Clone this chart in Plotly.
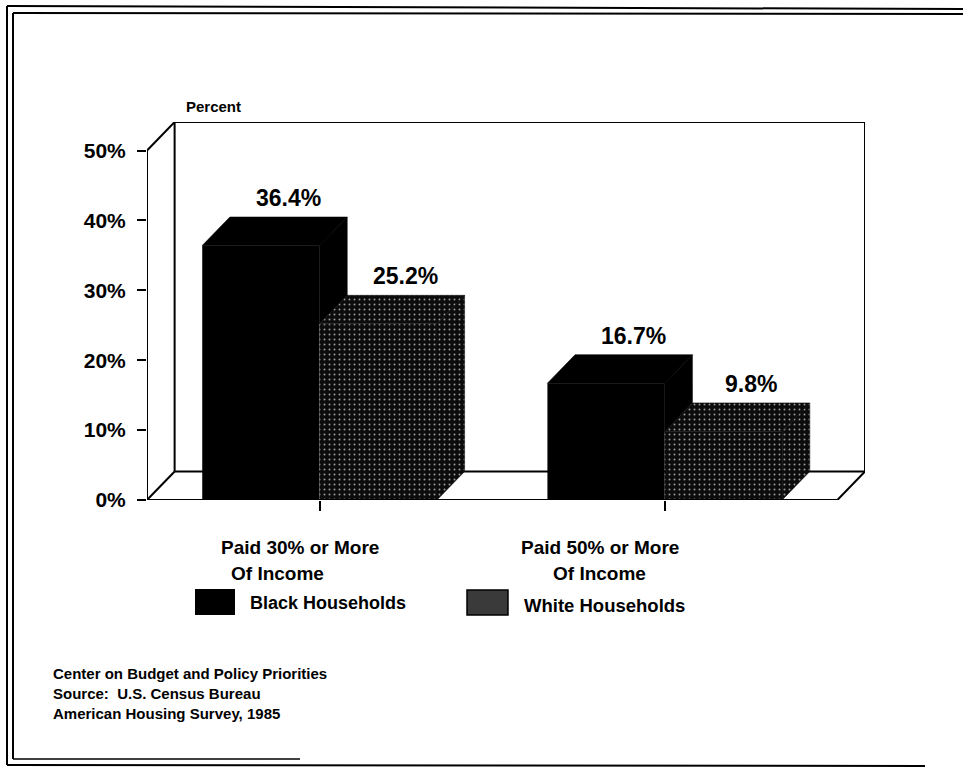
import plotly.graph_objects as go

# ---------------- data ----------------
category_line1 = ["Paid 30% or More", "Paid 50% or More"]
category_line2 = ["Of Income", "Of Income"]
series_names = ["Black Households", "White Households"]
black_values = [36.4, 16.7]
white_values = [25.2, 9.8]
y_ticks = [0, 10, 20, 30, 40, 50]
footer_lines = ["Center on Budget and Policy Priorities",
                "Source:  U.S. Census Bureau",
                "American Housing Survey, 1985"]

# ---------------- geometry / style ----------------
FONT = "Liberation Sans, Arial, Helvetica, sans-serif"
W, H = 963, 769
L, R, T, B = 147, 865, 122, 500          # plot area in pixels
YMAX = 50
DX, DY = 0.08, 4.08                        # 3-D depth offset (x units, y units)
BW = 0.34                                  # bar width (x units)
XR = [-0.5, 1.5 + DX]
YR = [0, YMAX + DY]

def px(xp):
    return (xp - L) / (R - L)

def py(yp):
    return (B - yp) / (B - T)

BLACK = "#000000"
WHITE_BG = "#0c0c0c"
pat = dict(shape=".", fgcolor="#9a9a9a", bgcolor=WHITE_BG, size=5, solidity=0.12, fillmode="replace")

fig = go.Figure()
xs = list(range(len(category_line1)))

# front faces as bars
fig.add_trace(go.Bar(x=xs, y=black_values, offset=-BW, width=BW, name=series_names[0],
                     marker=dict(color=BLACK, line=dict(width=0)), showlegend=False,
                     hoverinfo="skip"))
fig.add_trace(go.Bar(x=xs, y=white_values, offset=0, width=BW, name=series_names[1],
                     marker=dict(color=WHITE_BG, line=dict(width=0), pattern=pat),
                     showlegend=False, hoverinfo="skip"))

def faces(x0, v, clip, color, pattern=None):
    x1 = x0 + BW
    top_x = [x0, x1, x1 + DX, x0 + DX, x0]
    top_y = [v, v, v + DY, v + DY, v]
    side_x = [x1, x1, x1 + DX, x1 + DX, x1]
    side_y = [clip, v, v + DY, clip + DY, clip]
    for xx, yy in ((top_x, top_y), (side_x, side_y)):
        kw = dict(x=xx, y=yy, mode="lines", fill="toself", fillcolor=color,
                  line=dict(width=0.6, color=color), showlegend=False, hoverinfo="skip")
        if pattern:
            kw["fillpattern"] = pattern
        fig.add_trace(go.Scatter(**kw))

for i, c in enumerate(xs):
    faces(c - BW, black_values[i], white_values[i], BLACK)
for i, c in enumerate(xs):
    faces(c, white_values[i], 0, WHITE_BG, pat)

# value labels above back top edge
for vals, off in ((black_values, -BW), (white_values, 0)):
    for i, c in enumerate(xs):
        fig.add_annotation(x=c + off + BW / 2 + DX, y=vals[i] + DY, text=f"{vals[i]:.1f}%",
                           showarrow=False, yanchor="bottom", yshift=4,
                           font=dict(family=FONT, size=23, color="black", weight="bold"))

# category labels (below the floor, slightly left of the group ticks as in the original)
cat_line1_shift = [-20, -65]
cat_line2_shift = [-42, -65]
for i, c in enumerate(xs):
    fig.add_annotation(x=c, y=0, text=category_line1[i], showarrow=False,
                       xanchor="center", yanchor="middle", xshift=cat_line1_shift[i], yshift=-47,
                       font=dict(family=FONT, size=19, color="black", weight="bold"))
    fig.add_annotation(x=c, y=0, text=category_line2[i], showarrow=False,
                       xanchor="center", yanchor="middle", xshift=cat_line2_shift[i], yshift=-73,
                       font=dict(family=FONT, size=19, color="black", weight="bold"))

shapes = []
line = dict(color="black", width=2)
# back wall and floor
shapes += [
    dict(type="line", xref="x", yref="y", x0=XR[0] + DX, y0=DY, x1=XR[0] + DX, y1=YMAX + DY, line=line, layer="below"),
    dict(type="line", xref="x", yref="y", x0=XR[0] + DX, y0=YMAX + DY, x1=1.5 + DX, y1=YMAX + DY, line=line, layer="below"),
    dict(type="line", xref="x", yref="y", x0=1.5 + DX, y0=DY, x1=1.5 + DX, y1=YMAX + DY, line=line, layer="below"),
    dict(type="line", xref="x", yref="y", x0=XR[0] + DX, y0=DY, x1=1.5 + DX, y1=DY, line=line, layer="below"),
    dict(type="line", xref="x", yref="y", x0=XR[0], y0=0, x1=XR[0] + DX, y1=DY, line=line, layer="below"),
    dict(type="line", xref="x", yref="y", x0=XR[0], y0=YMAX, x1=XR[0] + DX, y1=YMAX + DY, line=line, layer="below"),
    dict(type="line", xref="x", yref="y", x0=1.5, y0=0, x1=1.5 + DX, y1=DY, line=line, layer="below"),
    dict(type="line", xref="x", yref="y", x0=XR[0], y0=0, x1=XR[0], y1=YMAX, line=line),
    dict(type="line", xref="x", yref="y", x0=XR[0], y0=0, x1=1.5, y1=0, line=line),
]
# page frame
fl = dict(color="black", width=2)
shapes += [
    dict(type="line", xref="paper", yref="paper", x0=px(7), y0=py(6), x1=px(7), y1=py(765), line=fl),
    dict(type="line", xref="paper", yref="paper", x0=px(13), y0=py(13), x1=px(13), y1=py(759), line=fl),
    dict(type="line", xref="paper", yref="paper", x0=px(7), y0=py(6), x1=px(963), y1=py(9), line=fl),
    dict(type="line", xref="paper", yref="paper", x0=px(13), y0=py(13), x1=px(963), y1=py(14), line=fl),
    dict(type="line", xref="paper", yref="paper", x0=px(7), y0=py(765), x1=px(925), y1=py(766), line=fl),
    dict(type="line", xref="paper", yref="paper", x0=px(13), y0=py(759), x1=px(300), y1=py(759), line=dict(color="black", width=1.5)),
]
# legend swatches
shapes += [
    dict(type="rect", xref="paper", yref="paper", x0=px(195), y0=py(589), x1=px(235), y1=py(615),
         fillcolor="black", line=dict(width=0)),
    dict(type="rect", xref="paper", yref="paper", x0=px(467), y0=py(590), x1=px(508), y1=py(615),
         fillcolor="#3a3a3a", line=dict(color="black", width=1.5)),
]
fig.update_layout(shapes=shapes)

fig.add_annotation(xref="paper", yref="paper", x=px(248), y=py(603), text=series_names[0],
                   showarrow=False, xanchor="left", yanchor="middle",
                   font=dict(family=FONT, size=18, color="black", weight="bold"))
fig.add_annotation(xref="paper", yref="paper", x=px(522), y=py(605), text=series_names[1],
                   showarrow=False, xanchor="left", yanchor="middle",
                   font=dict(family=FONT, size=18.5, color="black", weight="bold"))
fig.add_annotation(xref="paper", yref="paper", x=px(184), y=py(106), text="Percent",
                   showarrow=False, xanchor="left", yanchor="middle",
                   font=dict(family=FONT, size=15, color="black", weight="bold"))
for k, t in enumerate(footer_lines):
    fig.add_annotation(xref="paper", yref="paper", x=px(51), y=py(673 + 20 * k), text=t,
                       showarrow=False, xanchor="left", yanchor="middle",
                       font=dict(family=FONT, size=15, color="black", weight="bold"))

fig.update_layout(
    width=W, height=H,
    margin=dict(l=L, r=W - R, t=T, b=H - B, pad=0),
    paper_bgcolor="white", plot_bgcolor="white",
    showlegend=False,
    barmode="overlay",
    xaxis=dict(range=XR, tickvals=xs, ticktext=["" for _ in xs], ticks="outside", ticklen=10,
               tickwidth=2, tickcolor="black", showgrid=False, zeroline=False, showline=False),
    yaxis=dict(range=YR, tickvals=y_ticks, ticktext=[f"{v}%" for v in y_ticks],
               ticks="outside", ticklen=9, tickwidth=2, tickcolor="black",
               showgrid=False, zeroline=False, showline=False, ticklabelstandoff=7,
               tickfont=dict(family=FONT, size=21, color="black", weight="bold")),
)

fig.write_html("out.html")
